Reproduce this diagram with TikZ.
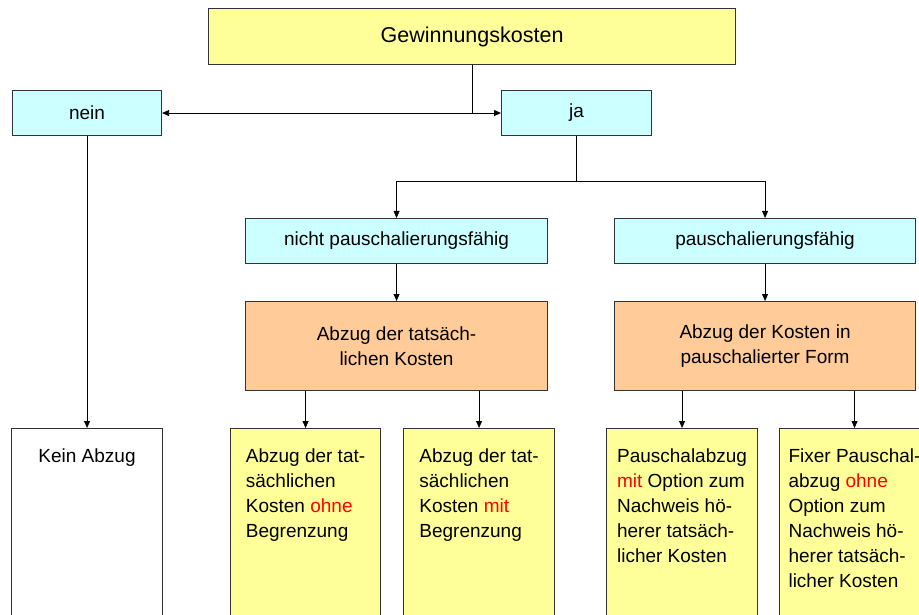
\documentclass[tikz,border=0pt]{standalone}
\usepackage{fontspec}
\setmainfont{Liberation Sans}
\usetikzlibrary{arrows.meta}
\definecolor{boxyellow}{HTML}{FFFF99}
\definecolor{boxcyan}{HTML}{CCFFFF}
\definecolor{boxorange}{HTML}{FFCC99}
\definecolor{rim}{HTML}{333333}
% left-aligned block whose baseline is that of its first line
\newcommand{\firstline}[1]{\begin{tabular}[t]{@{}l@{}}#1\end{tabular}}
\begin{document}
\begin{tikzpicture}[x=1pt,y=-1pt,
  box/.style={draw=rim,line width=1.1pt,rectangle,inner sep=0pt,anchor=north west},
  lbl/.style={font=\fontsize{19}{25}\selectfont,inner sep=0pt},
  blocktext/.style={font=\fontsize{19}{25}\selectfont,inner sep=0pt,anchor=base},
  conn/.style={draw=black,line width=0.8pt},
  arr/.style={conn,-{Triangle[length=7pt,width=6pt]}},
  darr/.style={conn,{Triangle[length=7pt,width=6pt]}-{Triangle[length=7pt,width=6pt]}}]
\clip (0,0) rectangle (919,615);
\fill[white] (0,0) rectangle (919,615);

% top level
\node[box,fill=boxyellow,minimum width=527pt,minimum height=56pt] (title) at (208,8) {};
\node[lbl,font=\fontsize{21.5}{25}\selectfont] at (title.center) {Gewinnungskosten};

% yes / no
\node[box,fill=boxcyan,minimum width=149pt,minimum height=45pt] (nein) at (12,90) {};
\node[lbl] at (nein.center) {nein};
\node[box,fill=boxcyan,minimum width=150pt,minimum height=45pt] (ja) at (501,90) {};
\node[lbl] at (ja.center) {ja};

% lump-sum capability
\node[box,fill=boxcyan,minimum width=302pt,minimum height=45pt] (nicht) at (245,218) {};
\node[lbl] at (nicht.center) {nicht pauschalierungsfähig};
\node[box,fill=boxcyan,minimum width=301pt,minimum height=45pt] (paus) at (614,218) {};
\node[lbl] at (paus.center) {pauschalierungsfähig};

% kind of deduction
\node[box,fill=boxorange,minimum width=302pt,minimum height=89pt] (tats) at (245,301) {};
\node[lbl,align=center] at (tats.center) {Abzug der tatsäch-\\lichen Kosten};
\node[box,fill=boxorange,minimum width=301pt,minimum height=89pt] (pform) at (614,301) {};
\node[lbl,align=center] at (pform.center) {Abzug der Kosten in\\pauschalierter Form};

% outcomes
\node[box,fill=white,minimum width=151pt,minimum height=200pt] (kein) at (11,428) {};
\node[blocktext] at ([yshift=-34pt]kein.north) {\firstline{Kein Abzug}};

\node[box,fill=boxyellow,minimum width=150pt,minimum height=200pt] (ohneb) at (230,428) {};
\node[blocktext] at ([yshift=-34pt]ohneb.north) {\firstline{Abzug der tat-\\sächlichen\\Kosten \textcolor{red}{ohne}\\Begrenzung}};

\node[box,fill=boxyellow,minimum width=151pt,minimum height=200pt] (mitb) at (403,428) {};
\node[blocktext] at ([yshift=-34pt]mitb.north) {\firstline{Abzug der tat-\\sächlichen\\Kosten \textcolor{red}{mit}\\Begrenzung}};

\node[box,fill=boxyellow,minimum width=151pt,minimum height=200pt] (mitopt) at (606,428) {};
\node[blocktext] at ([yshift=-34pt]mitopt.north) {\firstline{Pauschalabzug\\\textcolor{red}{mit} Option zum\\Nachweis hö-\\herer tatsäch-\\licher Kosten}};

\node[box,fill=boxyellow,minimum width=150pt,minimum height=200pt] (fix) at (779,428) {};
\node[blocktext] at ([yshift=-34pt]fix.north) {\firstline{Fixer Pauschal-\\abzug \textcolor{red}{ohne}\\Option zum\\Nachweis hö-\\herer tatsäch-\\licher Kosten}};

% connectors
\coordinate (split) at (title.south |- nein.east);
\draw[conn] (title.south) -- (split);
\draw[darr] (nein.east) -- (ja.west);

\coordinate (fork) at ([yshift=-45.7pt]ja.south);
\draw[conn] (ja.south) -- (fork);
\draw[arr] (fork) -| (nicht.north);
\draw[arr] (fork) -| (paus.north);

\draw[arr] (nicht.south) -- (tats.north);
\draw[arr] (paus.south) -- (pform.north);

\draw[arr] (nein.south) -- (kein.north);
\draw[arr] (tats.south -| ohneb.north) -- (ohneb.north);
\draw[arr] (tats.south -| mitb.north) -- (mitb.north);
\draw[arr] (pform.south -| mitopt.north) -- (mitopt.north);
\draw[arr] (pform.south -| fix.north) -- (fix.north);
\end{tikzpicture}
\end{document}
